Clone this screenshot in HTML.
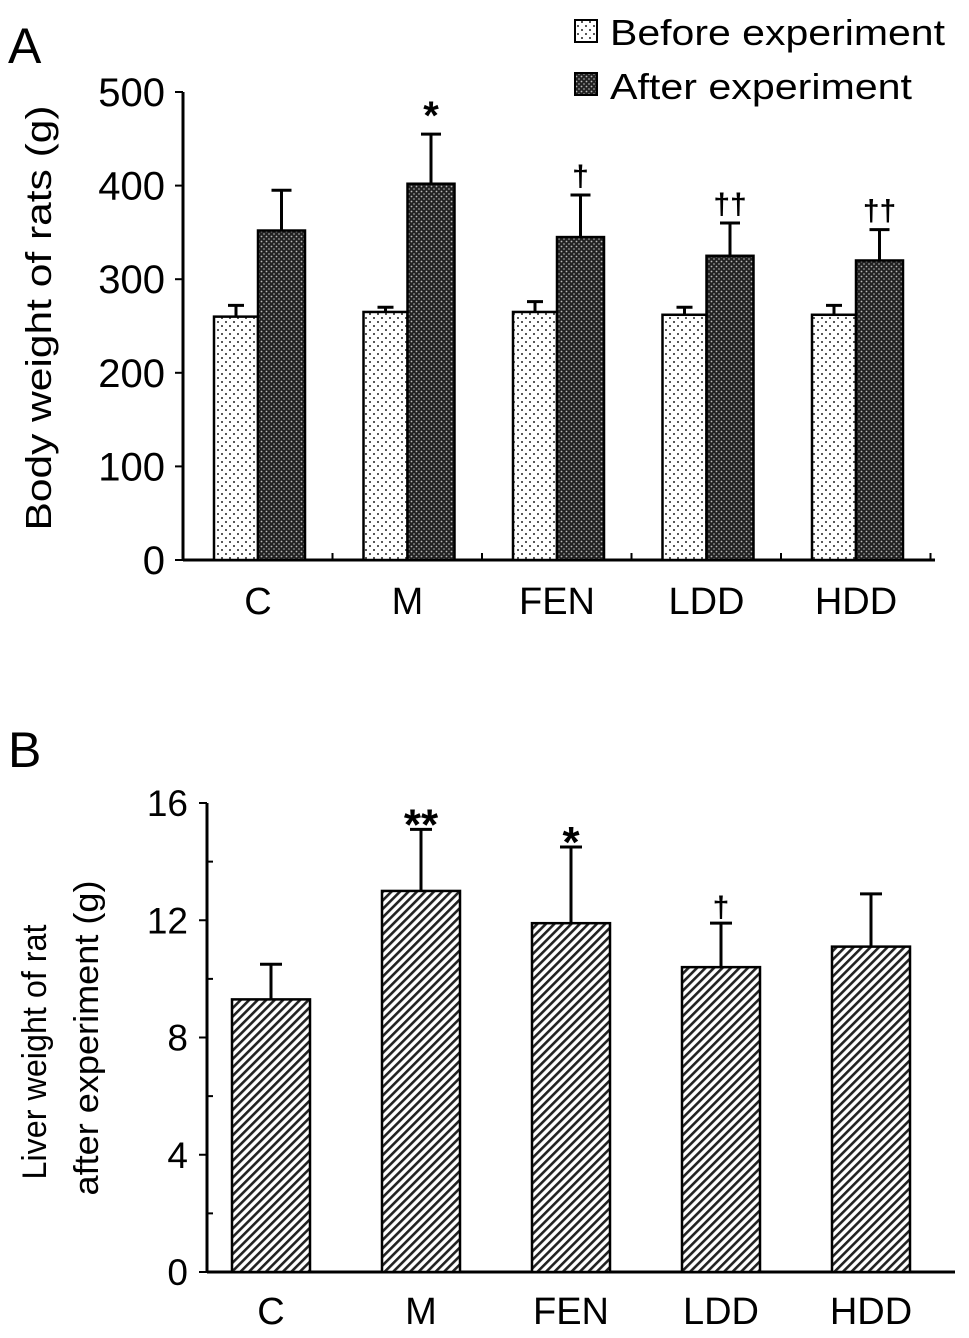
<!DOCTYPE html>
<html><head><meta charset="utf-8"><style>
html,body{margin:0;padding:0;background:#fff;}
svg{display:block;font-family:"Liberation Sans",Arial,sans-serif;}
</style></head><body>
<svg id="chart" width="969" height="1338" viewBox="0 0 969 1338" xmlns="http://www.w3.org/2000/svg">
<defs>
<pattern id="dots" width="8" height="8" patternUnits="userSpaceOnUse"><rect width="8" height="8" fill="#fff"/><circle cx="2" cy="2" r="1" fill="#222"/><circle cx="6" cy="6" r="1" fill="#222"/></pattern>
<pattern id="dark" width="5" height="5" patternUnits="userSpaceOnUse"><rect width="5" height="5" fill="#222"/><circle cx="1.5" cy="1.5" r="0.9" fill="#bbb"/><circle cx="4" cy="4" r="0.9" fill="#999"/></pattern>
<pattern id="hatch" width="6" height="6" patternUnits="userSpaceOnUse" patternTransform="rotate(45)"><rect width="6" height="6" fill="#fff"/><rect width="2.6" height="6" fill="#222"/></pattern>
</defs>
<g id="gA"></g>
<g id="gB"></g>
</svg>
<script>
const categories=["C","M","FEN","LDD","HDD"];
const beforeVals=[260,265,265,262,262];
const beforeErr=[12,5,11,8,10];
const afterVals=[352,402,345,325,320];
const afterErr=[43,53,45,35,33];
const markA=["","*","†","††","††"];
const yTicksA=[0,100,200,300,400,500];
const liverVals=[9.3,13.0,11.9,10.4,11.1];
const liverErr=[1.2,2.1,2.6,1.5,1.8];
const markB=["","**","*","†",""];
const yTicksB=[0,4,8,12,16];

const NS="http://www.w3.org/2000/svg";
function el(p,t,a,txt){const e=document.createElementNS(NS,t);for(const k in a)e.setAttribute(k,a[k]);if(txt!==undefined)e.textContent=txt;p.appendChild(e);return e;}

// Panel A
const gA=document.getElementById('gA');
const yA=v=>560-v*(468/500);
const xA0=183, gw=149.5;
el(gA,'text',{x:8,y:63,'font-size':50,},'A');
el(gA,'line',{x1:xA0,y1:92,x2:xA0,y2:560,stroke:'#000','stroke-width':3,});
el(gA,'line',{x1:xA0,y1:560,x2:935,y2:560,stroke:'#000','stroke-width':3,});
yTicksA.forEach(v=>{
 const t=el(gA,'line',{x1:xA0-8,y1:yA(v),x2:xA0,y2:yA(v),stroke:'#000','stroke-width':2});
 
 const l=el(gA,'text',{x:165,y:yA(v)+14,'font-size':40,'text-anchor':'end'},v);
 
});
for(let i=1;i<=5;i++){const x=xA0+i*gw;const t=el(gA,'line',{x1:x,y1:560,x2:x,y2:553,stroke:'#000','stroke-width':2});}
el(gA,'text',{x:0,y:0,'font-size':36,'text-anchor':'middle',textLength:425,lengthAdjust:'spacingAndGlyphs',transform:'translate(51 318) rotate(-90)',},'Body weight of rats (g)');
categories.forEach((c,i)=>{
 const bx=xA0+31+i*gw, bw=44;
 const b1=el(gA,'rect',{x:bx,y:yA(beforeVals[i]),width:bw,height:560-yA(beforeVals[i]),fill:'url(#dots)',stroke:'#000','stroke-width':2.5});
 
 const e1=el(gA,'path',{d:`M${bx+bw/2},${yA(beforeVals[i])} V${yA(beforeVals[i]+beforeErr[i])} M${bx+bw/2-8},${yA(beforeVals[i]+beforeErr[i])} H${bx+bw/2+8}`,stroke:'#000','stroke-width':3,fill:'none'});
 
 const ax=bx+bw;
 const b2=el(gA,'rect',{x:ax,y:yA(afterVals[i]),width:bw+3,height:560-yA(afterVals[i]),fill:'url(#dark)',stroke:'#000','stroke-width':2.5});
 
 const top=yA(afterVals[i]+afterErr[i]), cx=ax+(bw+3)/2;
 const e2=el(gA,'path',{d:`M${cx},${yA(afterVals[i])} V${top} M${cx-10},${top} H${cx+10}`,stroke:'#000','stroke-width':3,fill:'none'});
 
 if(markA[i]){const m=el(gA,'text',{x:cx,y:top-(markA[i]=='*'?5:9),'font-size':markA[i]=='*'?40:30,'font-weight':'bold','text-anchor':'middle'},markA[i]);}
 const l=el(gA,'text',{x:bx+bw,y:614,'font-size':38,'text-anchor':'middle'},c);
 
});
// legend
el(gA,'rect',{x:575,y:20,width:22,height:22,fill:'url(#dots)',stroke:'#000','stroke-width':2,});
el(gA,'text',{x:610,y:45,'font-size':36,textLength:335,lengthAdjust:'spacingAndGlyphs',},'Before experiment');
el(gA,'rect',{x:575,y:73,width:22,height:22,fill:'url(#dark)',stroke:'#000','stroke-width':2,});
el(gA,'text',{x:610,y:99,'font-size':36,textLength:302,lengthAdjust:'spacingAndGlyphs',},'After experiment');

// Panel B
const gB=document.getElementById('gB');
const yB=v=>1272-v*(469/16);
const xB0=207, gwB=150;
el(gB,'text',{x:8,y:767,'font-size':50,},'B');
el(gB,'line',{x1:xB0,y1:803,x2:xB0,y2:1272,stroke:'#000','stroke-width':3,});
el(gB,'line',{x1:xB0,y1:1272,x2:955,y2:1272,stroke:'#000','stroke-width':3,});
yTicksB.forEach(v=>{
 const t=el(gB,'line',{x1:xB0-8,y1:yB(v),x2:xB0,y2:yB(v),stroke:'#000','stroke-width':2});
 
 const l=el(gB,'text',{x:188,y:yB(v)+13,'font-size':37,'text-anchor':'end'},v);
 
 if(v<16){const m=el(gB,'line',{x1:xB0,y1:yB(v+2),x2:xB0+6,y2:yB(v+2),stroke:'#000','stroke-width':2});}
});
el(gB,'text',{x:0,y:0,'font-size':34,'text-anchor':'middle',textLength:255,lengthAdjust:'spacingAndGlyphs',transform:'translate(46 1052) rotate(-90)',},'Liver weight of rat');
el(gB,'text',{x:0,y:0,'font-size':34,'text-anchor':'middle',textLength:315,lengthAdjust:'spacingAndGlyphs',transform:'translate(98 1038) rotate(-90)',},'after experiment (g)');
categories.forEach((c,i)=>{
 const bx=232+i*gwB, bw=78;
 const b=el(gB,'rect',{x:bx,y:yB(liverVals[i]),width:bw,height:1272-yB(liverVals[i]),fill:'url(#hatch)',stroke:'#000','stroke-width':2.5});
 
 const cx=bx+bw/2, top=yB(liverVals[i]+liverErr[i]);
 const e=el(gB,'path',{d:`M${cx},${yB(liverVals[i])} V${top} M${cx-11},${top} H${cx+11}`,stroke:'#000','stroke-width':3,fill:'none'});
 
 if(markB[i]){const m=el(gB,'text',{x:cx,y:top-(markB[i]=='†'?6:-10),'font-size':markB[i]=='†'?30:44,'font-weight':'bold','text-anchor':'middle'},markB[i]);}
 const l=el(gB,'text',{x:cx,y:1324,'font-size':38,'text-anchor':'middle'},c);
 
});
</script>
</body></html>
